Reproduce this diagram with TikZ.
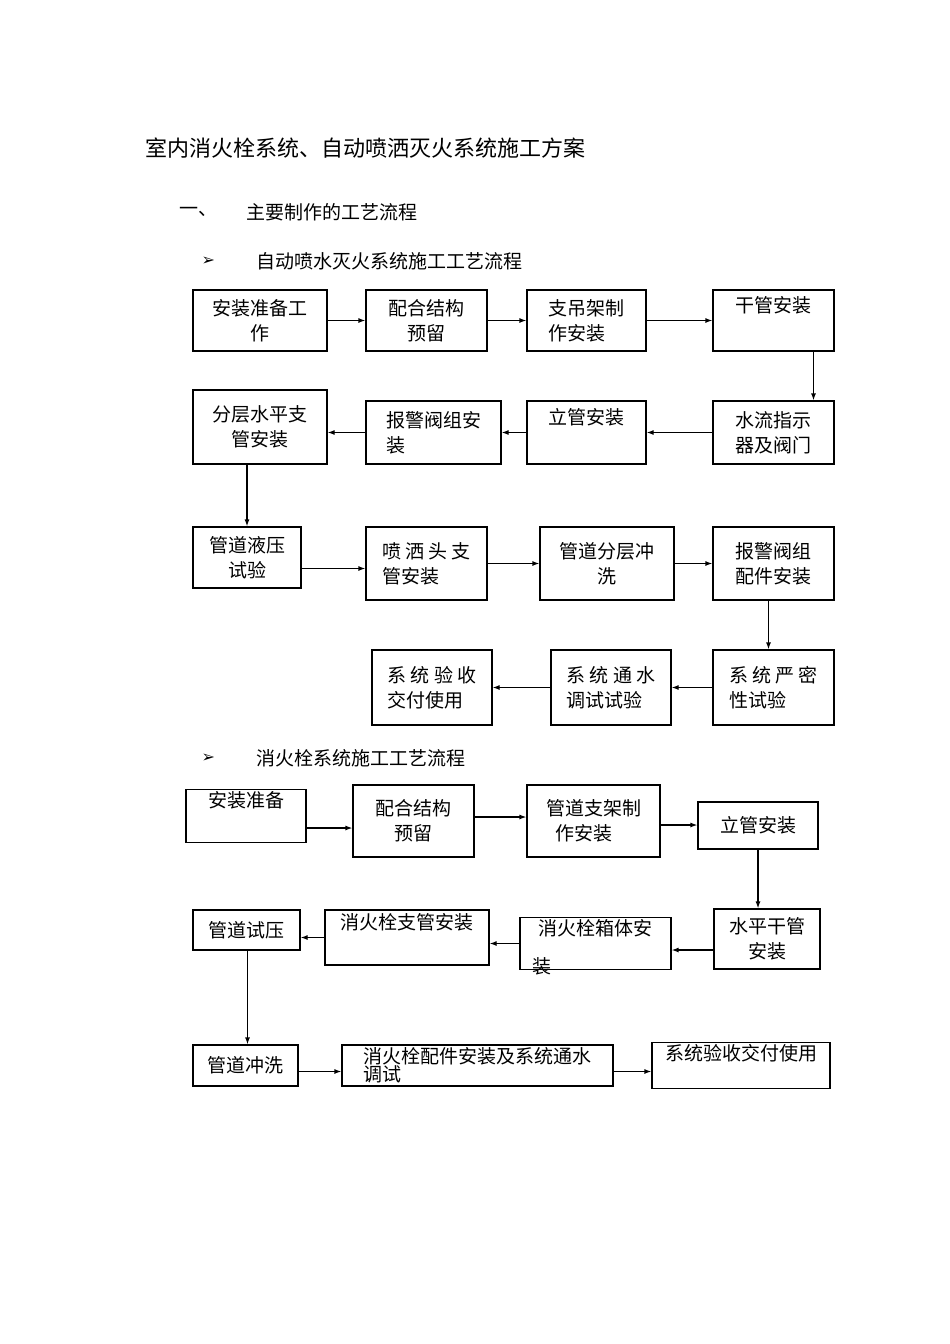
\documentclass[tikz,border=0pt]{standalone}
\usepackage{fontspec}
\setmainfont{Noto Sans CJK SC}
\newfontfamily\djv{DejaVu Sans}
\usetikzlibrary{arrows.meta}
\tikzset{box/.style={draw,line width=1.2pt,align=left,inner sep=2pt,font=\fontsize{19}{25}\selectfont},
arr/.style={line width=1.2pt,-{Latex[length=7pt,width=5pt]}},
hd/.style={anchor=west,font=\fontsize{19}{22}\selectfont}}
\newcommand\bx[6]{\node[box,minimum width={#4pt-#2pt},minimum height={#5pt-#3pt}] (#1) at ({(#2+#4)/2},{(#3+#5)/2}) {#6};}
\begin{document}
\begin{tikzpicture}[x=1pt,y=-1pt]
\useasboundingbox[fill=white] (0,0) rectangle (950,1344);
\node[anchor=west,font=\fontsize{22}{26}\selectfont] (t) at (142,148) {室内消火栓系统、自动喷洒灭火系统施工方案};
\node[hd] (h1) at (176,212) {一、};
\node[hd] (h1b) at (243,212) {主要制作的工艺流程};
\node[anchor=west,font=\djv\fontsize{16}{20}\selectfont] (m1) at (198,261) {➢};
\node[hd] (h2) at (253,261) {自动喷水灭火系统施工工艺流程};
\node[anchor=west,font=\djv\fontsize{16}{20}\selectfont] (m2) at (198,758) {➢};
\node[hd] (h3) at (253,758) {消火栓系统施工工艺流程};
% flow 1
\bx{A1}{193}{290}{327}{351}{安装准备工\\\hspace{2em}作}
\bx{A2}{366}{290}{487}{351}{配合结构\\\hspace{1em}预留}
\bx{A3}{527}{290}{646}{351}{支吊架制\\作安装}
\bx{A4}{713}{290}{834}{351}{干管安装\\\strut}
\bx{B4}{713}{401}{834}{464}{水流指示\\器及阀门}
\bx{B3}{527}{401}{646}{464}{立管安装\\\strut}
\bx{B2}{366}{401}{501}{464}{报警阀组安\\装}
\bx{B1}{193}{390}{327}{464}{分层水平支\\\hspace{1em}管安装}
\bx{C1}{193}{527}{301}{588}{管道液压\\\hspace{1em}试验}
\bx{C2}{366}{527}{487}{600}{喷 洒 头 支\\管安装}
\bx{C3}{540}{527}{674}{600}{管道分层冲\\\hspace{2em}洗}
\bx{C4}{713}{527}{834}{600}{报警阀组\\配件安装}
\bx{D3}{713}{650}{834}{725}{系 统 严 密\\性试验}
\bx{D2}{551}{650}{671}{725}{系 统 通 水\\调试试验}
\bx{D1}{372}{650}{492}{725}{系 统 验 收\\交付使用}
\draw[arr] (A1.east) -- (A1.east -| A2.west);
\draw[arr] (A2.east) -- (A2.east -| A3.west);
\draw[arr] (A3.east) -- (A3.east -| A4.west);
\draw[arr] ([xshift=40pt]A4.south) -- ([xshift=40pt]A4.south |- B4.north);
\draw[arr] (B4.west) -- (B4.west -| B3.east);
\draw[arr] (B3.west) -- (B3.west -| B2.east);
\draw[arr] (B2.west) -- (B2.west -| B1.east);
\draw[arr] ([xshift=-13pt]B1.south) -- ([xshift=-13pt]B1.south |- C1.north);
\draw[arr] ([yshift=-11pt]C1.east) -- ([yshift=-11pt]C1.east -| C2.west);
\draw[arr] (C2.east) -- (C2.east -| C3.west);
\draw[arr] (C3.east) -- (C3.east -| C4.west);
\draw[arr] ([xshift=-5pt]C4.south) -- ([xshift=-5pt]C4.south |- D3.north);
\draw[arr] (D3.west) -- (D3.west -| D2.east);
\draw[arr] (D2.west) -- (D2.west -| D1.east);
% flow 2
\bx{E1}{186}{790}{306}{842}{安装准备\\\strut}
\bx{E2}{353}{785}{474}{857}{配合结构\\\hspace{1em}预留}
\bx{E3}{527}{785}{660}{857}{管道支架制\\\hspace{0.5em}作安装}
\bx{E4}{698}{802}{818}{849}{立管安装}
\bx{F4}{714}{909}{820}{969}{水平干管\\\hspace{1em}安装}
\bx{F3}{520}{922}{671}{965}{消火栓箱体安\\\strut}
\node[font=\fontsize{19}{20}\selectfont] (F3b) at (542,966) {装};
\bx{F2}{325}{910}{489}{965}{消火栓支管安装\\\strut}
\bx{F1}{193}{910}{300}{950}{管道试压}
\bx{G1}{193}{1045}{298}{1086}{管道冲洗}
\bx{G2}{342}{1045}{613}{1086}{消火栓配件安装及系统通水\\[-7pt]调试}
\bx{G3}{652}{1045}{830}{1086}{系统验收交付使用\\[-7pt]\strut}
\draw[arr] ([yshift=-12pt]E1.east) -- ([yshift=-12pt]E1.east -| E2.west);
\draw[arr] ([yshift=4pt]E2.east) -- ([yshift=4pt]E2.east -| E3.west);
\draw[arr] ([yshift=-4pt]E3.east) -- ([yshift=-4pt]E3.east -| E4.west);
\draw[arr] (E4.south) -- (E4.south |- F4.north);
\draw[arr] ([yshift=-11pt]F4.west) -- ([yshift=-11pt]F4.west -| F3.east);
\draw[arr] (F3.west) -- (F3.west -| F2.east);
\draw[arr] (F2.west) -- (F2.west -| F1.east);
\draw[arr] ([xshift=1pt]F1.south) -- ([xshift=1pt]F1.south |- G1.north);
\draw[arr] ([yshift=-6pt]G1.east) -- ([yshift=-6pt]G1.east -| G2.west);
\draw[arr] ([yshift=-6pt]G2.east) -- ([yshift=-6pt]G2.east -| G3.west);
\end{tikzpicture}
\end{document}
